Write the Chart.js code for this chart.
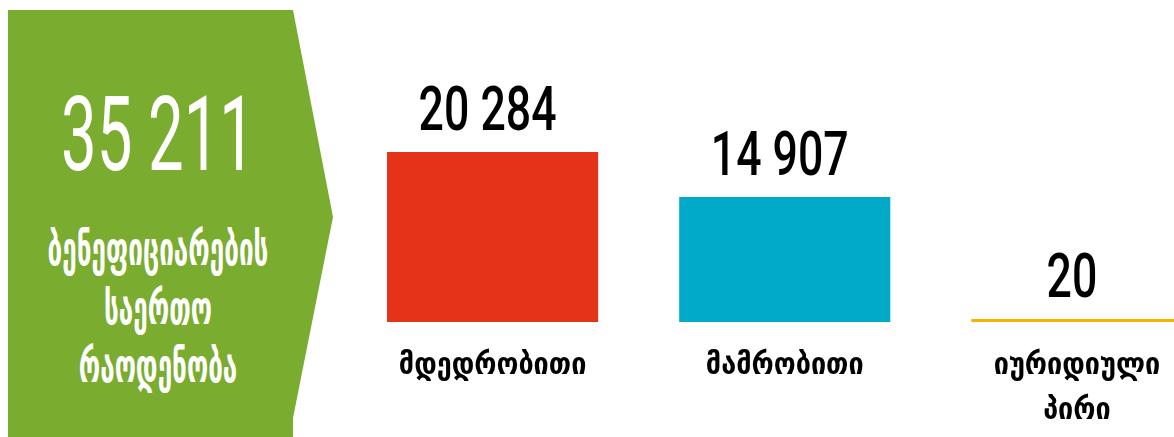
<!DOCTYPE html>
<html>
<head>
<meta charset="utf-8">
<script src="https://cdn.jsdelivr.net/npm/chart.js@4/dist/chart.umd.min.js"></script>
<style>
  html, body { margin: 0; padding: 0; width: 1174px; height: 437px; overflow: hidden; background: #ffffff; }
  #wrap { position: relative; width: 1174px; height: 437px; overflow: hidden; }
  #chart { position: absolute; left: 0; top: 0; }
  #panel {
    position: absolute; left: 8px; top: 10px; width: 326px; height: 427px;
    background: #7AAC2F;
    clip-path: polygon(0 0, 285px 0, 325px 207px, 285px 408px, 285px 427px, 0 427px);
    color: #ffffff;
  }
  #total {
    position: absolute; left: -100px; width: 500px; top: 60px; text-align: center; white-space: nowrap;
    font-family: Roboto, sans-serif; font-weight: 400; font-size: 104px; line-height: 130px;
    transform: scaleX(0.61); transform-origin: 250px 0;
  }
  .gl {
    position: absolute; left: -100px; width: 500px; text-align: center;
    font-family: 'DejaVu Sans Condensed', 'DejaVu Sans', sans-serif; font-weight: bold;
    font-size: 46px; line-height: 50px; white-space: nowrap;
    transform: scaleX(0.63); transform-origin: 250px 0;
  }
</style>
</head>
<body>
<div id="wrap">
  <canvas id="chart" width="1223" height="437" style="width:1223px;height:437px"></canvas>
  <div id="panel">
    <div id="total"></div>
    <div class="gl" id="g1" style="top:214px"></div>
    <div class="gl" id="g2" style="top:273px"></div>
    <div class="gl" id="g3" style="top:331px"></div>
  </div>
</div>
<script>
// ---- data ----
const categories = [['მდედრობითი'], ['მამრობითი'], ['იურიდიული', 'პირი']];
const values = [20284, 14907, 20];
const barColors = ['#E5331A', '#00AAC8', '#F5B400'];
const totalValue = 35211;
const panelLines = ['ბენეფიციარების', 'საერთო', 'რაოდენობა'];
const yMax = 30000;

function fmt(n) { return String(n).replace(/\B(?=(\d{3})+(?!\d))/g, ' '); }

document.getElementById('total').textContent = fmt(totalValue);
panelLines.forEach((t, i) => { document.getElementById('g' + (i + 1)).textContent = t; });

const valueLabels = {
  id: 'valueLabels',
  afterDatasetsDraw(chart) {
    const ctx = chart.ctx;
    const meta = chart.getDatasetMeta(0);
    meta.data.forEach((bar, i) => {
      ctx.save();
      ctx.fillStyle = '#000000';
      ctx.font = '500 62px Roboto';
      ctx.textAlign = 'center';
      ctx.textBaseline = 'alphabetic';
      ctx.translate(bar.x - 5, bar.y - 22);
      ctx.scale(0.72, 1);
      ctx.fillText(fmt(values[i]), 0, 0);
      ctx.restore();
    });
  }
};

new Chart(document.getElementById('chart'), {
  type: 'bar',
  data: {
    labels: categories,
    datasets: [{
      data: values,
      backgroundColor: barColors,
      borderWidth: 0,
      minBarLength: 3,
      barPercentage: 1,
      categoryPercentage: 211 / 292
    }]
  },
  options: {
    responsive: false,
    animation: false,
    devicePixelRatio: 1,
    layout: { padding: { left: 346.5, top: 70.6, right: 0, bottom: 0 } },
    plugins: { legend: { display: false }, tooltip: { enabled: false } },
    scales: {
      y: { display: false, min: 0, max: yMax },
      x: {
        afterFit(scale) { scale.height = 115; },
        grid: { display: false, drawTicks: false },
        border: { display: false },
        ticks: {
          color: '#000000',
          padding: 22,
          font: { family: "'DejaVu Sans Condensed', 'DejaVu Sans', sans-serif", weight: 'bold', size: 30, lineHeight: 1.5 }
        }
      }
    }
  },
  plugins: [valueLabels]
});
</script>
</body>
</html>
